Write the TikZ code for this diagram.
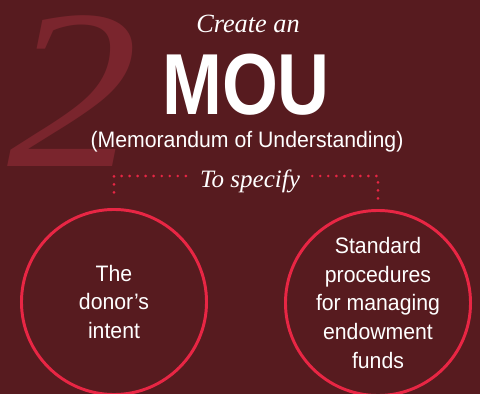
\documentclass[tikz,border=0pt]{standalone}
\usepackage{fontspec}
\usetikzlibrary{positioning,calc}
\newfontfamily\condfont[FakeStretch=0.95]{Liberation Sans}
\newfontfamily\heavyfont[FakeStretch=0.83]{Liberation Sans}
\newfontfamily\garafont{Liberation Serif}
\definecolor{bgmaroon}{RGB}{87,27,31}
\definecolor{twored}{RGB}{122,37,45}
\definecolor{ringred}{RGB}{232,38,68}

\begin{document}
\begin{tikzpicture}[x=0.025cm, y=-0.025cm,
    ring/.style={circle, draw=ringred, line width=2.1pt, minimum size=4.625cm, inner sep=0pt, align=center, text=white, font=\condfont\fontsize{15.9}{20.6}\selectfont},
    dotline/.style={draw=ringred, line width=2.1pt, line cap=round, dash pattern=on 0pt off 5.7pt},
    title/.style={text=white, inner sep=0pt, anchor=base}]

    % background
    \path[use as bounding box, clip] (0,0) rectangle (480,394);
    \fill[bgmaroon] (0,0) rectangle (480,394);

    % big number behind the title
    \node[anchor=base, text=twored, inner sep=0pt, xscale=1.15, font=\garafont\itshape\fontsize{162}{162}\selectfont] (num) at (73,166) {2};

    % headline
    \node[title, font=\garafont\itshape\fontsize{18.7}{18.7}\selectfont] (create) at (248,33) {Create an};
    \node[title, font=\heavyfont\bfseries\fontsize{61.6}{61.6}\selectfont] (mou) at (246,114) {MOU};
    \node[title, font=\condfont\fontsize{15.9}{15.9}\selectfont] (memo) at (247,147) {(Memorandum of Understanding)};
    \node[title, font=\garafont\itshape\fontsize{17.8}{17.8}\selectfont] (specify) at (250,187) {To specify};

    % the two circles
    \node[ring] (intent) at (114,302) {The\\donor’s\\intent};
    \node[ring] (funds) at (378,303) {Standard\\procedures\\for managing\\endowment\\funds};

    % dotted brackets
    \draw[dotline] ($(specify.base west)+(-14,-11)$) -| ($(intent.north)+(0,-9)$);
    \draw[dotline] ($(specify.base east)+(12,-11)$) -| ($(funds.north)+(0,-10)$);
\end{tikzpicture}
\end{document}
